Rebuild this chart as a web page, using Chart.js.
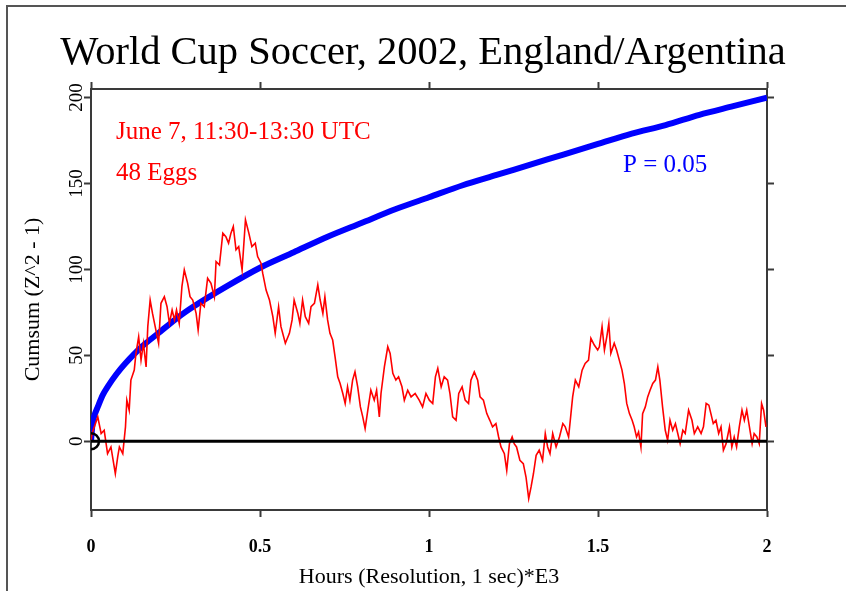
<!DOCTYPE html>
<html>
<head>
<meta charset="utf-8">
<script src="https://cdn.jsdelivr.net/npm/chart.js@4.4.1/dist/chart.umd.min.js"></script>
<style>
  html, body { margin: 0; padding: 0; background: #fff; }
</style>
</head>
<body>
<canvas id="myChart" width="846" height="591"></canvas>

<script>
// red trace: cumulative deviation (x in hours*E3)
var redHours = [
  0, 0.003, 0.020, 0.030, 0.039, 0.049, 0.059, 0.072, 0.079, 0.084, 0.094, 0.102, 0.106, 0.113, 0.118,
  0.128, 0.133, 0.141, 0.148, 0.155, 0.163, 0.168, 0.175, 0.182, 0.192, 0.200, 0.207, 0.217, 0.225,
  0.232, 0.240, 0.247, 0.253, 0.261, 0.269, 0.276, 0.286, 0.293, 0.301, 0.311, 0.317, 0.325, 0.335,
  0.345, 0.355, 0.365, 0.370, 0.380, 0.390, 0.399, 0.407, 0.414, 0.421, 0.429, 0.437, 0.447, 0.457,
  0.467, 0.476, 0.486, 0.493, 0.503,
  0.508, 0.518, 0.528, 0.538, 0.545, 0.555, 0.562, 0.575, 0.587, 0.595, 0.601, 0.612, 0.618, 0.626,
  0.634, 0.644, 0.651, 0.661, 0.671, 0.678, 0.686, 0.692, 0.700, 0.707, 0.715, 0.722, 0.730, 0.737,
  0.745, 0.752, 0.759, 0.766, 0.774, 0.781, 0.789, 0.797, 0.804, 0.811, 0.819, 0.828, 0.838, 0.845,
  0.853, 0.858, 0.868, 0.878, 0.885, 0.893, 0.902, 0.910, 0.920, 0.927, 0.937, 0.947, 0.959, 0.971,
  0.981, 0.991, 1.001,
  1.011, 1.019, 1.026, 1.036, 1.045, 1.055, 1.062, 1.070, 1.080, 1.088, 1.098, 1.107, 1.117, 1.124,
  1.134, 1.144, 1.151, 1.161, 1.171, 1.180, 1.188, 1.198, 1.206, 1.213, 1.223, 1.230, 1.238, 1.246,
  1.252, 1.259, 1.269, 1.279, 1.287, 1.295, 1.302, 1.309, 1.317, 1.326, 1.336, 1.344, 1.351, 1.358,
  1.366, 1.376, 1.386, 1.396, 1.403, 1.413, 1.420, 1.425, 1.433, 1.443, 1.453, 1.462, 1.472, 1.479,
  1.489, 1.499,
  1.504, 1.512, 1.519, 1.526, 1.532, 1.538, 1.548, 1.555, 1.563, 1.571, 1.578, 1.585, 1.593, 1.601,
  1.607, 1.614, 1.620, 1.627, 1.632, 1.640, 1.647, 1.654, 1.662, 1.670, 1.677, 1.683, 1.691, 1.699,
  1.706, 1.713, 1.721, 1.729, 1.736, 1.743, 1.751, 1.758, 1.768, 1.778, 1.785, 1.795, 1.805, 1.812,
  1.820, 1.828, 1.834, 1.841, 1.849, 1.857, 1.864, 1.871, 1.879, 1.889, 1.896, 1.903, 1.910, 1.918,
  1.926, 1.933, 1.940, 1.948, 1.956, 1.962, 1.970, 1.977, 1.984, 1.990, 1.997
];
var redCumsum = [
  0, 4.5, 14.2, 4.5, 6.4, -7.2, -3.3, -18.9, -9.1, -3.3, -7.2, 8.4, 23.9, 18.1, 35.6,
  41.4, 51.1, 60.8, 47.2, 57.0, 43.3, 66.7, 82.2, 74.4, 64.7, 57.0, 80.3, 84.1, 78.3,
  68.6, 76.4, 70.6, 76.4, 68.6, 90.0, 99.7, 91.9, 84.1, 82.2, 74.4, 64.7, 80.3, 78.3,
  94.9, 91.9, 84.1, 104.6, 102.6, 121.1, 119.1, 115.3, 121.1, 125.0, 111.4, 113.3, 99.7, 128.9,
  121.1, 113.3, 115.3, 107.5, 103.6,
  97.8, 88.0, 82.2, 72.5, 62.8, 78.3, 66.7, 57.0, 62.8, 70.6, 82.2, 74.4, 68.6, 82.2,
  72.5, 68.6, 78.3, 80.3, 91.0, 82.2, 74.4, 84.1, 70.6, 62.8, 58.9, 49.2, 37.5, 33.6,
  27.8, 22.0, 31.7, 23.9, 35.6, 40.4, 31.7, 20.0, 14.2, 7.4, 18.1, 29.7, 23.9, 29.7,
  14.2, 27.8, 43.3, 55.0, 51.1, 39.5, 35.6, 37.5, 31.7, 23.9, 29.7, 25.8, 27.8, 23.9,
  20.0, 27.8, 23.9,
  22.0, 37.5, 42.4, 31.7, 37.5, 35.6, 27.8, 14.2, 12.2, 27.8, 31.7, 23.9, 22.0, 35.6,
  40.4, 35.6, 25.8, 23.9, 16.1, 12.2, 8.4, 10.3, 2.5, -3.3, -7.2, -16.9, -1.4, 2.5,
  -1.4, -3.3, -11.1, -13.0, -20.8, -33.4, -26.6, -18.9, -8.2, -5.2, -11.1, 4.5, -3.3, -7.2,
  4.5, -3.3, 2.5, 10.3, 8.4, 2.5, 16.1, 25.8, 35.6, 31.7, 41.4, 45.3, 47.2, 59.9,
  56.0, 53.1,
  55.0, 66.7, 53.1, 60.8, 68.6, 51.1, 57.0, 53.1, 47.2, 41.4, 33.6, 22.0, 16.1, 12.2,
  8.4, 2.5, 5.4, -3.3, 16.1, 20.0, 25.8, 29.7, 33.6, 35.6, 43.3, 35.6, 20.0, 6.4,
  0.6, 12.2, 6.4, 10.3, 4.5, -1.4, 6.4, 4.5, 18.1, 12.2, 4.5, 8.4, 4.5, 8.4,
  22.0, 21.0, 16.1, 10.3, 12.2, 4.5, 8.4, -5.2, -1.4, 8.4, -3.3, 2.5, -3.3, 8.4,
  18.1, 12.2, 18.1, 8.4, -1.4, 4.5, 2.5, -1.4, 22.0, 18.1, 8.4
];

// blue P = 0.05 envelope
var envHours = [0, 0.005, 0.01, 0.02, 0.035, 0.05, 0.075, 0.1, 0.15, 0.2, 0.25, 0.3, 0.4, 0.5,
  0.6, 0.7, 0.8, 0.9, 1.0, 1.1, 1.2, 1.3, 1.4, 1.5, 1.6, 1.7, 1.8, 1.9, 2.0];
var envCumsum = [0, 11, 15, 20, 27, 32, 39, 45, 55, 63, 71, 78, 90, 101,
  110, 119, 127, 135, 142, 149, 155, 161, 167, 173, 179, 184, 190, 195, 200];

var zeroHours = [0, 2];
var zeroCumsum = [0, 0];

var xTicks = [0, 0.5, 1, 1.5, 2];
var yTicks = [0, 50, 100, 150, 200];

function pts(xs, ys) {
  return xs.map(function (x, i) { return { x: x, y: ys[i] }; });
}

var serif = "'Liberation Serif', 'Times New Roman', serif";
var axisGrey = '#3a3a3a';

// page frame + text notes
var decor = {
  id: 'decor',
  beforeDraw: function (chart) {
    var c = chart.ctx;
    c.save();
    c.fillStyle = '#fff';
    c.fillRect(0, 0, chart.width, chart.height);
    c.strokeStyle = '#555';
    c.lineWidth = 2;
    c.beginPath();
    c.moveTo(7, 591);
    c.lineTo(7, 6);
    c.lineTo(846, 6);
    c.stroke();
    c.restore();
  },
  afterDatasetsDraw: function (chart) {
    var c = chart.ctx;
    c.save();
    c.font = '25px ' + serif;
    c.textAlign = 'left';
    c.textBaseline = 'alphabetic';
    c.fillStyle = '#ff0000';
    c.fillText('June 7, 11:30-13:30 UTC', 116, 139);
    c.fillText('48 Eggs', 116, 180);
    c.fillStyle = '#0000ff';
    c.fillText('P = 0.05', 623, 172);
    c.restore();
  }
};

function edgeGrid() {
  return { drawOnChartArea: false, drawTicks: true, tickLength: 7, tickColor: axisGrey, tickWidth: 2 };
}
function plainNum(v) { return String(v); }

new Chart('myChart', {
  type: 'line',
  data: {
    datasets: [
      { label: 'zero', data: pts(zeroHours, zeroCumsum), borderColor: '#000', borderWidth: 3,
        pointRadius: 0, order: 0 },
      { label: 'start', data: [{ x: zeroHours[0], y: zeroCumsum[0] }], showLine: false,
        pointRadius: 8, pointBorderWidth: 2.5, pointBorderColor: '#000',
        pointBackgroundColor: 'rgba(0,0,0,0)', order: 0 },
      { label: 'Cumsum', data: pts(redHours, redCumsum), borderColor: '#ff0000', borderWidth: 1.6,
        pointRadius: 0, tension: 0, order: 1 },
      { label: 'P = 0.05', data: pts(envHours, envCumsum), borderColor: '#0000ff', borderWidth: 6,
        pointRadius: 0, tension: 0.3, order: 2 }
    ]
  },
  options: {
    responsive: false,
    animation: false,
    events: [],
    layout: { padding: 0 },
    plugins: {
      legend: { display: false },
      tooltip: { enabled: false },
      title: {
        display: true,
        text: 'World Cup Soccer, 2002, England/Argentina',
        color: '#000',
        font: { family: serif, size: 40.5, weight: 'normal', lineHeight: 1.2 },
        padding: { top: 29.5, bottom: 0 }
      }
    },
    scales: {
      x: {
        type: 'linear', position: 'bottom', min: 0, max: 2,
        afterBuildTicks: function (s) { s.ticks = xTicks.map(function (v) { return { value: v }; }); },
        ticks: { color: '#000', padding: 20, maxRotation: 0, callback: plainNum,
                 font: { family: serif, size: 18, weight: 'bold' } },
        grid: edgeGrid(),
        border: { color: axisGrey, width: 2 },
        title: { display: true, text: 'Hours (Resolution, 1 sec)*E3', color: '#000',
                 font: { family: serif, size: 22 }, padding: { top: 0, bottom: 1 } },
        afterFit: function (s) { s.height = 81; }
      },
      x2: {
        type: 'linear', position: 'top', min: 0, max: 2,
        afterBuildTicks: function (s) { s.ticks = xTicks.map(function (v) { return { value: v }; }); },
        ticks: { display: false },
        grid: edgeGrid(),
        border: { color: axisGrey, width: 2 },
        afterFit: function (s) { s.height = 10.9; }
      },
      y: {
        type: 'linear', position: 'left', min: -40, max: 205,
        afterBuildTicks: function (s) { s.ticks = yTicks.map(function (v) { return { value: v }; }); },
        ticks: { color: '#000', minRotation: 90, maxRotation: 90, crossAlign: 'center', padding: -7,
                 callback: plainNum, font: { family: serif, size: 19 } },
        grid: edgeGrid(),
        border: { color: axisGrey, width: 2 },
        title: { display: true, text: 'Cumsum (Z^2 - 1)', color: '#000',
                 font: { family: serif, size: 22 }, padding: { top: 20, bottom: 0 } },
        afterFit: function (s) { s.width = 91; }
      },
      y2: {
        type: 'linear', position: 'right', min: -40, max: 205,
        afterBuildTicks: function (s) { s.ticks = yTicks.map(function (v) { return { value: v }; }); },
        ticks: { display: false },
        grid: edgeGrid(),
        border: { color: axisGrey, width: 2 },
        afterFit: function (s) { s.width = 79; }
      }
    }
  },
  plugins: [decor]
});
</script>
</body>
</html>
